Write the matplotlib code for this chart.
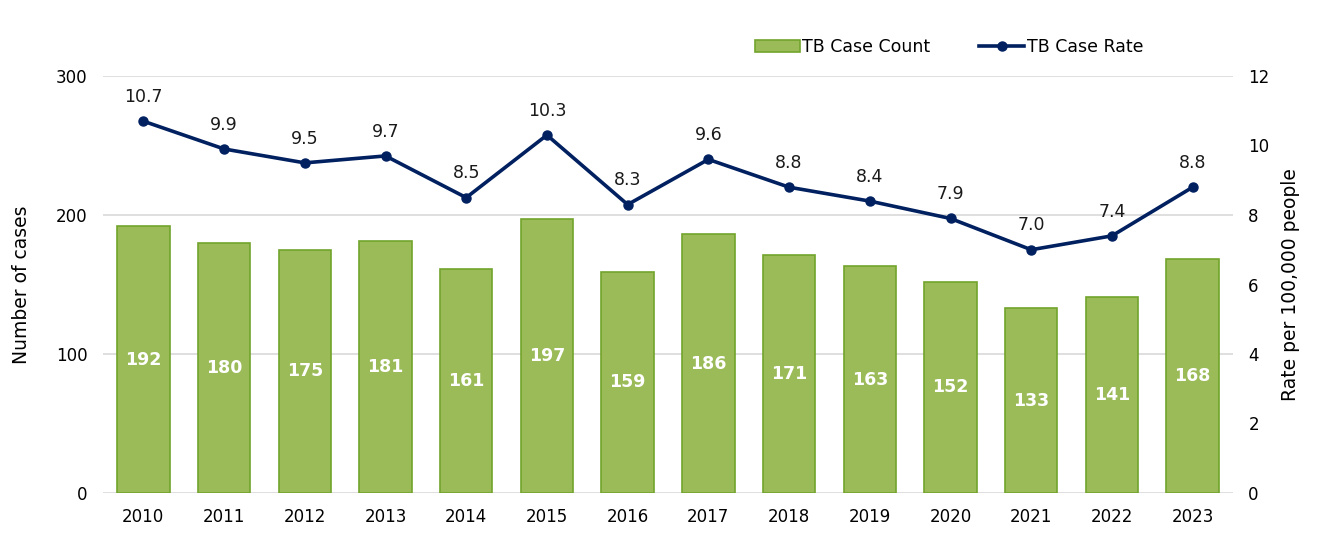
import matplotlib
matplotlib.use("Agg")
import matplotlib.pyplot as plt
import numpy as np

years = ["2010", "2011", "2012", "2013", "2014", "2015", "2016", "2017", "2018", "2019", "2020", "2021", "2022", "2023"]
case_counts = [192, 180, 175, 181, 161, 197, 159, 186, 171, 163, 152, 133, 141, 168]
case_rates = [10.7, 9.9, 9.5, 9.7, 8.5, 10.3, 8.3, 9.6, 8.8, 8.4, 7.9, 7.0, 7.4, 8.8]

plt.rcParams['font.family'] = ['DejaVu Sans']
tick_fs = 12
lab_fs = 13.5

fig = plt.figure(figsize=(13.27, 5.37), dpi=100)
ax = fig.add_axes([103/1327, 1-493/537, 1130/1327, (493-76)/537])
x = np.arange(len(years))
bars = ax.bar(x, case_counts, width=0.65, color='#9BBB59', edgecolor='#72A42C', linewidth=1.2,
              label='TB Case Count', zorder=2)
for xi, v in zip(x, case_counts):
    ax.text(xi, v/2, str(v), ha='center', va='center', color='white', fontweight='bold', fontsize=12.5, zorder=3)
ax.set_xlim(-0.5, len(years)-0.5)
ax.set_ylim(0, 300)
ax.set_yticks([0, 100, 200, 300])
ax.set_xticks(x)
ax.set_xticklabels(years)
ax.grid(axis='y', color='#D9D9D9', linewidth=1.2, zorder=0)
ax.set_axisbelow(True)
for s in ax.spines.values():
    s.set_visible(False)
ax.tick_params(length=0, labelsize=tick_fs, pad=11)
ax.tick_params(axis='y', pad=11)
ax.set_ylabel('Number of cases', fontsize=lab_fs, labelpad=18)

ax2 = ax.twinx()
ax2.set_ylim(0, 12)
ax2.set_yticks([0, 2, 4, 6, 8, 10, 12])
line, = ax2.plot(x, case_rates, color='#002060', linewidth=2.6, marker='o', markersize=6.5, label='TB Case Rate', zorder=4)
for xi, v in zip(x, case_rates):
    ax2.annotate(f"{v:.1f}", (xi, v), xytext=(0, 11), textcoords='offset points', ha='center', va='bottom', fontsize=12.5, color='#1a1a1a')
for s in ax2.spines.values():
    s.set_visible(False)
ax2.tick_params(length=0, labelsize=tick_fs, pad=11)
ax2.set_ylabel('Rate per 100,000 people', fontsize=lab_fs, labelpad=8)

fig.legend(handles=[bars, line], labels=['TB Case Count', 'TB Case Rate'], loc='center', bbox_to_anchor=(949/1327, 1-47/537),
           ncol=2, frameon=False, fontsize=12.5, handlelength=2.6, handletextpad=0.15, columnspacing=2.8)

fig.savefig('out.png', dpi=100)
